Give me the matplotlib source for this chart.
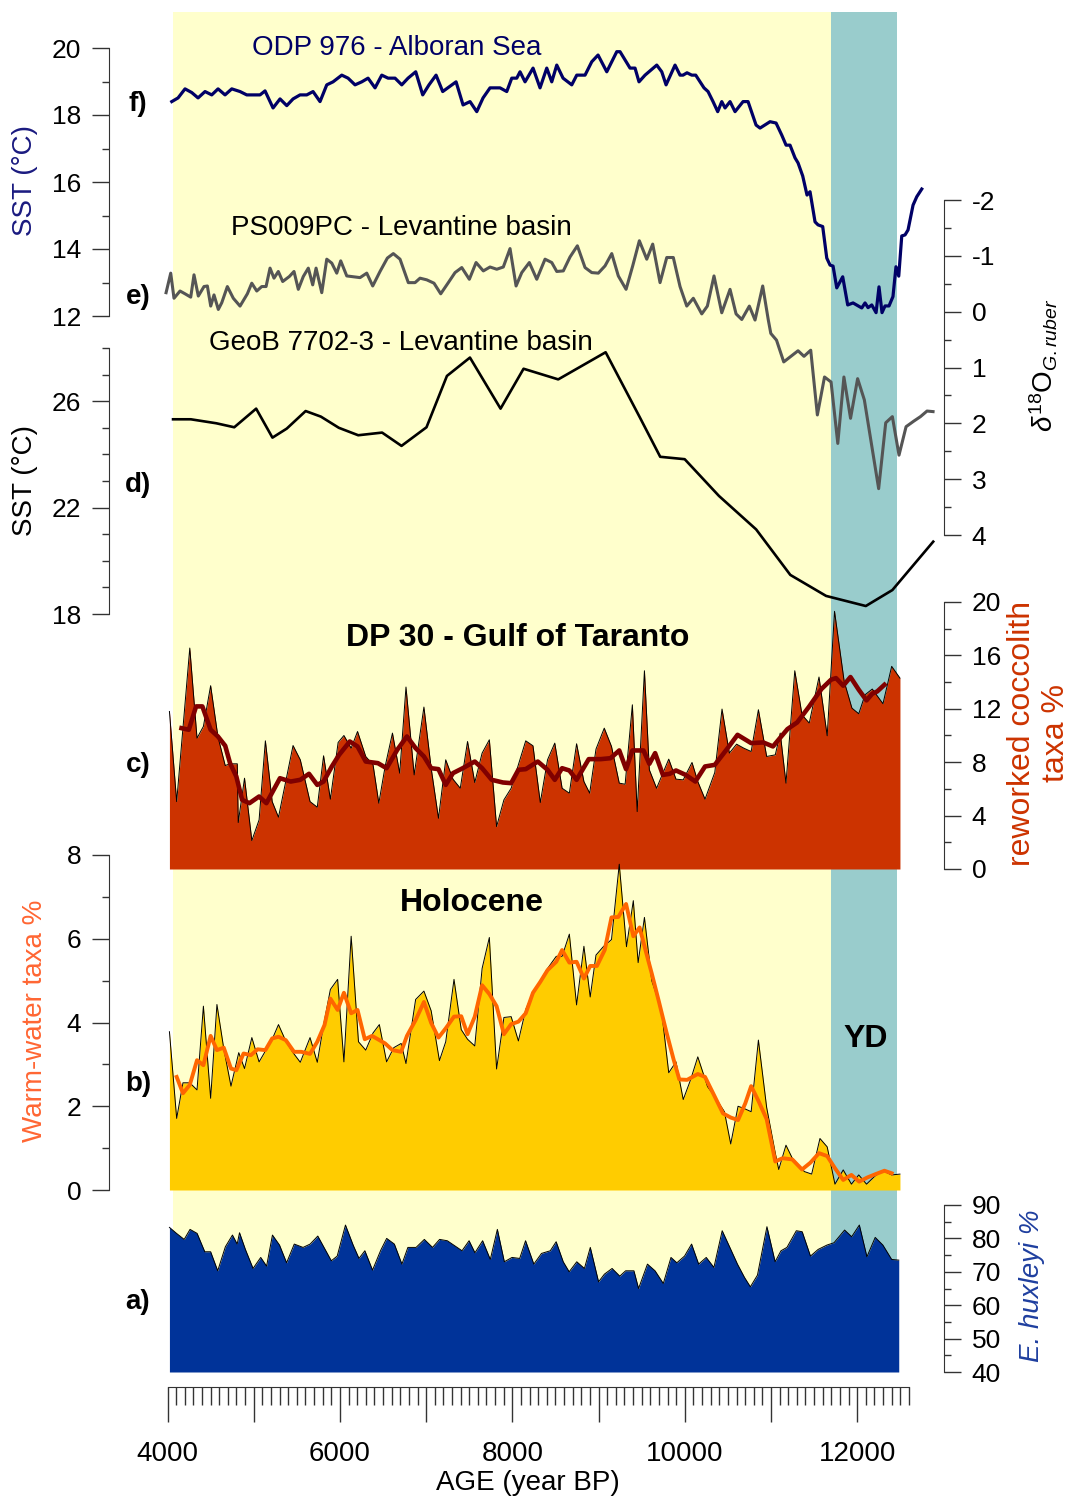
import matplotlib.pyplot as plt
from matplotlib.ticker import MultipleLocator, FixedLocator

plt.rcParams['font.family'] = ['Liberation Sans', 'DejaVu Sans']
plt.rcParams['mathtext.fontset'] = 'custom'
plt.rcParams['mathtext.rm'] = 'Liberation Sans'
plt.rcParams['mathtext.it'] = 'Liberation Sans:italic'
plt.rcParams['axes.unicode_minus'] = False

# f) ODP 976 - Alboran Sea, SST (deg C)
f_age = [4049, 4122, 4203, 4281, 4354, 4435, 4513, 4586, 4667, 4745,
         4841, 4919, 5073, 5131, 5224, 5305, 5383, 5456, 5537, 5615,
         5688, 5769, 5847, 5920, 6021, 6094, 6175, 6253, 6326, 6407,
         6485, 6558, 6639, 6717, 6790, 6879, 6960, 7033, 7115, 7192,
         7347, 7428, 7509, 7587, 7660, 7741, 7857, 7935, 7993, 8051,
         8089, 8147, 8240, 8321, 8399, 8457, 8515, 8588, 8689, 8747,
         8843, 8921, 8994, 9095, 9211, 9249, 9365, 9423, 9469, 9539,
         9675, 9733, 9783, 9887, 9945, 9980, 10026, 10081, 10127, 10223,
         10270, 10328, 10382, 10429, 10467, 10525, 10583, 10676, 10734, 10827,
         10873, 10989, 11059, 11125, 11175, 11221, 11279, 11314, 11368, 11418,
         11453, 11511, 11546, 11600, 11647, 11685, 11720, 11763, 11832, 11890,
         11952, 12053, 12091, 12126, 12169, 12219, 12253, 12288, 12323, 12369,
         12415, 12450, 12482, 12517, 12555, 12590, 12648, 12691, 12749]
f_sst = [18.40, 18.51, 18.78, 18.67, 18.51, 18.70, 18.60, 18.78, 18.60, 18.78,
         18.70, 18.60, 18.60, 18.72, 18.21, 18.48, 18.28, 18.48, 18.60, 18.60,
         18.70, 18.40, 18.90, 18.99, 19.19, 19.10, 18.90, 18.99, 19.10, 18.81,
         19.19, 19.10, 19.10, 18.90, 19.10, 19.29, 18.60, 18.90, 19.19, 18.70,
         18.99, 18.30, 18.40, 18.10, 18.51, 18.81, 18.81, 18.70, 19.10, 19.10,
         19.29, 18.99, 19.40, 18.81, 19.40, 18.99, 19.49, 19.10, 18.90, 19.19,
         19.19, 19.59, 19.79, 19.29, 19.89, 19.89, 19.40, 19.40, 18.99, 19.19,
         19.49, 19.29, 18.90, 19.49, 19.19, 19.19, 19.26, 19.19, 19.19, 18.81,
         18.70, 18.40, 18.10, 18.40, 18.21, 18.40, 18.10, 18.40, 18.40, 17.70,
         17.61, 17.80, 17.76, 17.40, 17.10, 17.10, 16.72, 16.57, 16.18, 15.61,
         15.71, 14.81, 14.72, 14.67, 13.73, 13.52, 13.49, 12.84, 13.17, 12.33,
         12.39, 12.24, 12.39, 12.25, 12.33, 12.10, 12.87, 12.10, 12.30, 12.30,
         12.58, 13.47, 13.19, 14.39, 14.42, 14.57, 15.31, 15.56, 15.79]

# e) PS009PC - Levantine basin, d18O G. ruber
e_age = [3983, 4037, 4075, 4145, 4203, 4269, 4307, 4357, 4423, 4462,
         4501, 4539, 4589, 4629, 4694, 4763, 4841, 4926, 4977, 5035,
         5093, 5143, 5189, 5235, 5285, 5336, 5413, 5467, 5517, 5575,
         5633, 5684, 5723, 5789, 5847, 5905, 5963, 6009, 6079, 6233,
         6311, 6380, 6465, 6550, 6619, 6697, 6793, 6871, 6929, 7007,
         7091, 7169, 7257, 7335, 7413, 7501, 7579, 7663, 7741, 7819,
         7895, 7973, 8043, 8109, 8197, 8283, 8379, 8457, 8515, 8591,
         8669, 8754, 8843, 8921, 8997, 9075, 9153, 9229, 9319, 9396,
         9473, 9559, 9628, 9713, 9791, 9867, 9945, 10023, 10099, 10197,
         10262, 10339, 10429, 10525, 10595, 10661, 10749, 10815, 10904, 10969,
         10998, 11064, 11148, 11314, 11383, 11461, 11538, 11621, 11697, 11775,
         11846, 11923, 12005, 12083, 12249, 12331, 12408, 12485, 12567, 12657,
         12734, 12810, 12880]
e_d18o = [-0.34, -0.69, -0.24, -0.37, -0.32, -0.26, -0.66, -0.28, -0.45, -0.46,
          -0.10, -0.30, -0.04, -0.16, -0.45, -0.24, -0.10, -0.32, -0.51, -0.37,
          -0.45, -0.45, -0.78, -0.60, -0.72, -0.54, -0.63, -0.72, -0.40, -0.63,
          -0.78, -0.48, -0.78, -0.34, -0.94, -0.87, -0.69, -0.91, -0.64, -0.61,
          -0.69, -0.46, -0.72, -0.96, -1.04, -0.94, -0.52, -0.52, -0.60, -0.57,
          -0.51, -0.32, -0.52, -0.70, -0.79, -0.58, -0.88, -0.73, -0.80, -0.76,
          -0.80, -1.13, -0.46, -0.70, -0.88, -0.58, -0.94, -0.88, -0.72, -0.73,
          -0.98, -1.18, -0.79, -0.70, -0.69, -0.82, -1.04, -0.64, -0.40, -0.82,
          -1.27, -0.94, -1.21, -0.52, -0.97, -0.97, -0.45, -0.10, -0.24, 0.04,
          -0.10, -0.64, 0.02, -0.40, 0.04, 0.14, -0.10, 0.15, -0.46, 0.15,
          0.39, 0.51, 0.90, 0.70, 0.80, 0.69, 1.85, 1.17, 1.26, 2.36,
          1.17, 1.91, 1.20, 1.58, 3.17, 1.99, 1.88, 2.57, 2.06, 1.96,
          1.88, 1.78, 1.79]

# d) GeoB 7702-3 - Levantine basin, SST (deg C)
d_age = [4064, 4270, 4566, 4774, 5028, 5217, 5383, 5602, 5779, 5987,
         6212, 6489, 6714, 7004, 7241, 7508, 7863, 8130, 8532, 9082,
         9479, 9715, 9999, 10396, 10828, 11224, 11639, 12100, 12408, 12882]
d_sst = [25.32, 25.32, 25.17, 25.02, 25.72, 24.63, 24.97, 25.63, 25.42, 25.00,
         24.72, 24.82, 24.32, 25.02, 26.95, 27.64, 25.72, 27.22, 26.82, 27.84,
         25.39, 23.91, 23.82, 22.44, 21.18, 19.47, 18.68, 18.30, 18.90, 20.72]

# c) DP 30 - reworked coccolith taxa %
c_age = [4022, 4106, 4258, 4342, 4416, 4500, 4584, 4669, 4725, 4809,
         4820, 4893, 4978, 5062, 5135, 5214, 5287, 5371, 5456, 5540,
         5653, 5737, 5810, 5889, 5979, 6046, 6130, 6204, 6299, 6384,
         6451, 6524, 6609, 6693, 6766, 6861, 6974, 7058, 7143, 7227,
         7311, 7396, 7480, 7564, 7649, 7733, 7817, 7902, 7986, 8155,
         8239, 8324, 8408, 8492, 8577, 8661, 8745, 8830, 8897, 8970,
         9066, 9150, 9240, 9308, 9392, 9448, 9532, 9589, 9673, 9814,
         9898, 9982, 10084, 10151, 10235, 10348, 10432, 10517, 10601, 10685,
         10770, 10854, 10950, 11050, 11107, 11174, 11276, 11360, 11444, 11557,
         11652, 11737, 11849, 11939, 12018, 12091, 12175, 12299, 12400, 12496]
c_pct = [11.80, 5.05, 16.55, 9.80, 10.68, 13.73, 9.93, 7.75, 7.88, 7.88,
         3.48, 6.80, 2.13, 3.68, 9.60, 5.05, 3.88, 6.55, 9.25, 8.18,
         5.05, 4.63, 8.48, 5.23, 9.48, 10.00, 9.05, 10.30, 8.43, 7.80,
         4.93, 7.68, 10.18, 7.18, 13.63, 7.05, 12.13, 7.55, 3.80, 8.18,
         6.73, 6.05, 9.55, 6.48, 8.68, 9.68, 3.18, 5.18, 6.05, 9.60,
         9.23, 4.98, 8.18, 9.43, 6.05, 5.68, 9.38, 6.55, 5.68, 8.98,
         10.55, 9.18, 6.43, 6.35, 12.30, 4.30, 14.85, 7.43, 6.05, 8.23,
         6.73, 6.68, 7.98, 6.55, 5.23, 7.23, 11.98, 8.68, 9.35, 9.05,
         8.80, 11.93, 8.43, 8.55, 10.18, 6.43, 14.85, 11.55, 10.93, 14.38,
         9.98, 19.30, 14.05, 12.05, 11.63, 13.05, 13.48, 12.38, 15.18, 14.30]
c_mean_age = [4162, 4247, 4331, 4404, 4500, 4584, 4669, 4725, 4798, 4865,
              4950, 5062, 5147, 5231, 5304, 5428, 5540, 5641, 5737, 5810,
              5906, 5990, 6114, 6204, 6299, 6440, 6541, 6665, 6777, 6878,
              6974, 7058, 7143, 7227, 7311, 7424, 7564, 7649, 7761, 7891,
              7986, 8070, 8155, 8295, 8408, 8492, 8577, 8661, 8745, 8886,
              9026, 9139, 9240, 9319, 9392, 9521, 9589, 9656, 9746, 9825,
              9898, 10010, 10123, 10235, 10348, 10489, 10612, 10770, 10910, 11023,
              11191, 11304, 11444, 11585, 11697, 11754, 11838, 11922, 12018, 12108,
              12175, 12232, 12316]
c_mean = [10.55, 10.43, 12.18, 12.18, 10.43, 9.93, 9.23, 7.93, 6.93, 5.18,
          4.93, 5.43, 4.93, 5.93, 6.80, 6.55, 6.68, 7.13, 6.30, 6.55,
          7.68, 8.55, 9.55, 9.18, 8.05, 7.93, 7.55, 8.93, 9.93, 9.05,
          8.43, 7.55, 7.48, 6.30, 7.18, 7.55, 8.05, 7.55, 6.68, 6.48,
          6.43, 7.43, 7.48, 8.05, 7.43, 6.68, 7.55, 7.38, 6.68, 8.23,
          8.23, 8.30, 8.88, 7.48, 8.88, 8.88, 7.88, 8.68, 7.05, 7.13,
          7.38, 7.05, 6.55, 7.68, 7.80, 8.98, 10.05, 9.43, 9.48, 9.18,
          10.48, 10.98, 12.18, 13.48, 14.18, 14.30, 13.73, 14.38, 13.43, 12.63,
          13.13, 13.30, 13.80]

# b) DP 30 - warm-water taxa %
b_age = [4022, 4106, 4179, 4258, 4342, 4416, 4500, 4573, 4652, 4736,
         4826, 4893, 4978, 5062, 5147, 5214, 5287, 5371, 5456, 5540,
         5653, 5737, 5810, 5889, 5973, 6046, 6130, 6215, 6299, 6384,
         6457, 6541, 6625, 6710, 6766, 6878, 6974, 7058, 7154, 7227,
         7323, 7407, 7480, 7564, 7649, 7733, 7817, 7902, 7986, 8070,
         8155, 8239, 8295, 8408, 8509, 8577, 8661, 8745, 8830, 8903,
         8970, 9055, 9150, 9240, 9324, 9403, 9459, 9532, 9617, 9729,
         9814, 9898, 9982, 10067, 10151, 10264, 10348, 10460, 10533, 10618,
         10685, 10770, 10854, 10950, 11050, 11090, 11174, 11247, 11388, 11472,
         11568, 11652, 11742, 11838, 11933, 12018, 12108, 12204, 12299, 12400,
         12496]
b_pct = [3.78, 1.71, 2.56, 2.56, 2.39, 4.39, 2.19, 4.43, 3.38, 2.48,
         3.28, 2.90, 3.64, 3.06, 3.36, 3.60, 3.95, 3.56, 3.28, 3.05,
         3.64, 3.05, 3.94, 4.79, 5.03, 3.06, 6.06, 3.54, 3.34, 3.75,
         3.95, 3.06, 3.40, 3.50, 3.02, 4.55, 4.75, 4.28, 3.09, 3.54,
         5.03, 3.83, 3.60, 3.44, 5.29, 6.03, 2.89, 4.12, 4.14, 3.56,
         4.31, 4.71, 4.89, 5.29, 5.58, 5.58, 6.11, 4.42, 5.82, 4.61,
         5.61, 5.81, 5.98, 7.78, 5.81, 6.91, 5.43, 6.51, 5.00, 4.31,
         2.80, 3.06, 2.16, 2.63, 3.18, 2.47, 2.23, 1.87, 1.10, 2.00,
         1.95, 1.87, 3.58, 1.97, 0.88, 0.49, 1.07, 0.76, 0.44, 0.38,
         1.23, 1.03, 0.14, 0.48, 0.14, 0.36, 0.14, 0.33, 0.46, 0.36,
         0.38]
b_mean_age = [4106, 4179, 4258, 4342, 4416, 4500, 4573, 4652, 4736, 4798,
              4882, 4967, 5045, 5135, 5214, 5287, 5371, 5467, 5551, 5653,
              5737, 5821, 5889, 5973, 6046, 6130, 6204, 6288, 6372, 6440,
              6524, 6609, 6710, 6777, 6878, 6974, 7058, 7143, 7227, 7323,
              7407, 7480, 7564, 7649, 7733, 7817, 7902, 7986, 8070, 8155,
              8239, 8324, 8408, 8509, 8577, 8661, 8745, 8830, 8903, 8981,
              9071, 9150, 9229, 9319, 9403, 9476, 9544, 9617, 9701, 9786,
              9870, 9937, 10027, 10151, 10235, 10348, 10443, 10533, 10618, 10702,
              10770, 10854, 10950, 11050, 11135, 11247, 11360, 11456, 11557, 11652,
              11742, 11838, 11933, 12023, 12119, 12215, 12316, 12400]
b_mean = [2.70, 2.31, 2.51, 3.10, 2.98, 3.68, 3.34, 3.40, 2.90, 2.86,
          3.26, 3.22, 3.36, 3.34, 3.62, 3.66, 3.58, 3.30, 3.30, 3.25,
          3.54, 3.94, 4.57, 4.30, 4.71, 4.22, 4.30, 3.60, 3.68, 3.60,
          3.50, 3.34, 3.30, 3.68, 4.06, 4.49, 3.99, 3.64, 3.86, 4.14,
          4.15, 3.72, 4.14, 4.89, 4.68, 4.39, 3.72, 3.96, 4.02, 4.22,
          4.71, 4.97, 5.25, 5.45, 5.73, 5.43, 5.45, 5.05, 5.35, 5.35,
          5.73, 6.51, 6.52, 6.83, 6.06, 6.27, 5.73, 5.17, 4.49, 3.78,
          3.12, 2.64, 2.63, 2.77, 2.70, 2.23, 1.83, 1.73, 1.67, 2.07,
          2.48, 2.13, 1.69, 0.68, 0.76, 0.73, 0.49, 0.65, 0.88, 0.81,
          0.52, 0.24, 0.36, 0.20, 0.30, 0.38, 0.46, 0.40]

# a) E. huxleyi %
a_age = [4022, 4104, 4193, 4261, 4343, 4432, 4500, 4582, 4671, 4753,
         4808, 4835, 4903, 4992, 5081, 5149, 5217, 5299, 5381, 5470,
         5572, 5654, 5743, 5832, 5900, 5968, 6064, 6153, 6221, 6289,
         6378, 6474, 6542, 6631, 6719, 6788, 6883, 6979, 7074, 7156,
         7245, 7348, 7416, 7498, 7566, 7655, 7744, 7826, 7907, 7996,
         8085, 8153, 8249, 8338, 8440, 8508, 8590, 8659, 8747, 8836,
         8904, 9000, 9068, 9157, 9246, 9314, 9410, 9464, 9567, 9655,
         9751, 9840, 9908, 9997, 10079, 10161, 10249, 10338, 10434, 10523,
         10611, 10693, 10761, 10843, 10953, 11048, 11116, 11185, 11294, 11362,
         11458, 11547, 11649, 11731, 11854, 11936, 12025, 12113, 12209, 12298,
         12400, 12482]
a_pct = [83.3, 81.5, 79.7, 82.7, 81.5, 76.0, 76.0, 70.3, 77.5, 81.0,
         78.3, 81.7, 76.7, 71.0, 74.3, 71.7, 81.0, 78.0, 72.7, 78.3,
         77.3, 78.3, 80.7, 76.5, 73.3, 74.7, 84.0, 78.0, 74.0, 76.3,
         70.5, 76.5, 80.0, 78.3, 72.3, 77.3, 77.3, 79.7, 77.3, 79.7,
         79.3, 77.5, 76.3, 79.3, 75.7, 79.3, 73.7, 82.7, 73.0, 74.3,
         74.0, 79.3, 72.3, 75.5, 76.3, 79.0, 73.0, 70.0, 73.0, 71.0,
         77.3, 67.0, 69.3, 71.0, 68.7, 70.3, 70.3, 65.0, 72.3, 70.3,
         66.5, 74.3, 72.7, 74.7, 78.3, 72.3, 74.3, 71.3, 82.3, 77.3,
         72.3, 68.3, 65.5, 69.0, 83.5, 73.0, 76.3, 77.3, 82.3, 82.0,
         74.7, 76.7, 78.0, 78.7, 82.5, 80.5, 84.0, 74.5, 80.3, 78.0,
         73.7, 73.5]

holocene_span = [4065, 11697]
yd_span = [11697, 12462]
age_ticks = [4000, 5000, 6000, 7000, 8000, 9000, 10000, 11000, 12000]
age_tick_labels = ['4000', '', '6000', '', '8000', '', '10000', '', '12000']

# ---- layout (pixel based) ----
W, H = 1073, 1498
fig = plt.figure(figsize=(W / 100, H / 100), dpi=100)
XLIM = (3321, 13007)
AX_L, AX_R = 109, 944
SPINE = '#333333'


def px_box(top, bottom):
    return [AX_L / W, 1 - bottom / H, (AX_R - AX_L) / W, (bottom - top) / H]


def ftext(x, y, s, **kw):
    fig.text(x / W, 1 - y / H, s, ha='center', va='center', **kw)


def panel(top, bottom, side):
    ax = fig.add_axes(px_box(top, bottom), facecolor='none')
    ax.set_xlim(*XLIM)
    for s in ['top', 'bottom', 'left', 'right']:
        ax.spines[s].set_visible(s == side)
    ax.spines[side].set_color(SPINE)
    ax.set_xticks([])
    if side == 'left':
        ax.yaxis.tick_left()
    else:
        ax.yaxis.tick_right()
    ax.tick_params(axis='y', which='major', direction='out', length=12,
                   width=1, color=SPINE, labelsize=19, pad=8)
    ax.tick_params(axis='y', which='minor', direction='out', length=5,
                   width=1, color=SPINE)
    return ax


# background periods
bg = fig.add_axes(px_box(12, 1372))
bg.set_xlim(*XLIM)
bg.axis('off')
bg.axvspan(holocene_span[0], holocene_span[1], color='#FFFFCC', lw=0)
bg.axvspan(yd_span[0], yd_span[1], color='#99CCCC', lw=0)

# f) Alboran Sea SST
axf = panel(48, 316, 'left')
axf.plot(f_age, f_sst, color='#000066', lw=2.3)
axf.set_ylim(12, 20)
axf.yaxis.set_major_locator(MultipleLocator(2))
axf.yaxis.set_minor_locator(MultipleLocator(1))

# e) Levantine d18O
axe = panel(200, 535, 'right')
axe.plot(e_age, e_d18o, color='#555555', lw=2.2)
axe.set_ylim(4, -2)
axe.yaxis.set_major_locator(MultipleLocator(1))
axe.yaxis.set_minor_locator(MultipleLocator(0.5))

# d) Levantine SST
axd = panel(348, 614, 'left')
axd.plot(d_age, d_sst, color='black', lw=1.9)
axd.set_ylim(18, 28)
axd.yaxis.set_major_locator(FixedLocator([18, 22, 26]))
axd.yaxis.set_minor_locator(MultipleLocator(1))

# c) reworked coccoliths
axc = panel(602, 869, 'right')
axc.fill_between(c_age, c_pct, 0, color='#CC3300', lw=0)
axc.plot(c_age, c_pct, color='black', lw=0.7)
axc.plot(c_mean_age, c_mean, color='#800000', lw=3.3)
axc.set_ylim(0, 20)
axc.yaxis.set_major_locator(MultipleLocator(4))
axc.yaxis.set_minor_locator(MultipleLocator(2))

# b) warm-water taxa
axb = panel(855, 1190, 'left')
axb.fill_between(b_age, b_pct, 0, color='#FFCC00', lw=0)
axb.plot(b_age, b_pct, color='black', lw=0.7)
axb.plot(b_mean_age, b_mean, color='#FF6600', lw=2.8)
axb.set_ylim(0, 8)
axb.yaxis.set_major_locator(MultipleLocator(2))
axb.yaxis.set_minor_locator(MultipleLocator(1))

# a) E. huxleyi
axa = panel(1205, 1372, 'right')
axa.fill_between(a_age, a_pct, 40, color='#003399', lw=0)
axa.plot(a_age, a_pct, color='black', lw=0.7)
axa.set_ylim(40, 90)
axa.yaxis.set_major_locator(MultipleLocator(10))
axa.yaxis.set_minor_locator(MultipleLocator(5))

# shared age axis
axx = fig.add_axes([AX_L / W, 1 - 1387 / H, (AX_R - AX_L) / W, 0.0001],
                   facecolor='none')
axx.set_xlim(*XLIM)
for s in ['top', 'left', 'right']:
    axx.spines[s].set_visible(False)
axx.spines['bottom'].set_bounds(4000, 12600)
axx.spines['bottom'].set_color(SPINE)
axx.set_yticks([])
axx.set_xticks(age_ticks)
axx.set_xticklabels(age_tick_labels)
axx.set_xticks(list(range(4000, 12601, 100)), minor=True)
axx.tick_params(axis='x', which='major', direction='out', length=25,
                width=1, color=SPINE, labelsize=20, pad=14)
axx.tick_params(axis='x', which='minor', direction='out', length=13,
                width=1, color=SPINE)
ftext(528, 1483, 'AGE (year BP)', fontsize=20)

# axis titles
ftext(25, 181, 'SST (°C)', fontsize=20, rotation=90, color='#1A1A80')
ftext(25, 480, 'SST (°C)', fontsize=20, rotation=90)
ftext(35, 1021, 'Warm-water taxa %', fontsize=20, rotation=90, color='#FF6633')
ftext(1044, 365, r'$\delta^{18}\mathrm{O}_{\mathit{G.ruber}}$', fontsize=20,
      rotation=90)
ftext(1039, 733, 'reworked coccolith\ntaxa %', fontsize=23, rotation=90,
      color='#CC3300', linespacing=1.15)
ftext(1032, 1286, 'E. huxleyi %', fontsize=20, rotation=90, color='#1F3F9F',
      style='italic')

# record names
ftext(397, 48, 'ODP 976 - Alboran Sea', fontsize=20, color='#000066')
ftext(401, 228, 'PS009PC - Levantine basin', fontsize=20)
ftext(401, 343, 'GeoB 7702-3 - Levantine basin', fontsize=20)
ftext(518, 638, 'DP 30 - Gulf of Taranto', fontsize=23, fontweight='bold')
ftext(472, 903, 'Holocene', fontsize=23, fontweight='bold')
ftext(866, 1039, 'YD', fontsize=23, fontweight='bold')

# panel letters
for lab, y in [('f)', 104), ('e)', 297), ('d)', 485), ('c)', 765),
               ('b)', 1084), ('a)', 1302)]:
    ftext(138, y, lab, fontsize=20, fontweight='bold')

fig.savefig('out.png', dpi=100)
